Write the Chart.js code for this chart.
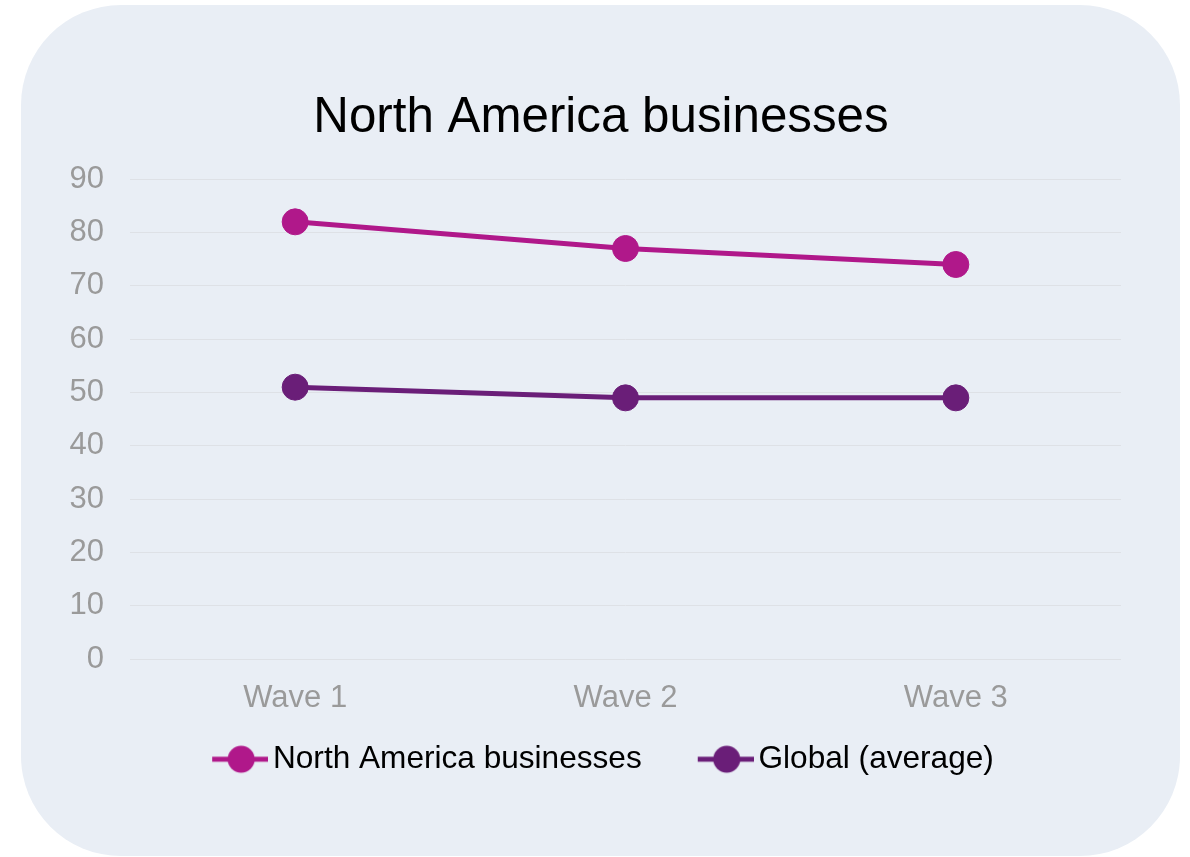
<!DOCTYPE html>
<html>
<head>
<meta charset="utf-8">
<script src="https://cdn.jsdelivr.net/npm/chart.js@4"></script>
<style>
  html, body { margin: 0; padding: 0; background: #ffffff; }
  #wrap { position: relative; width: 1190px; height: 857px; overflow: hidden; }
  #bg { position: absolute; left: 21px; top: 5px; width: 1159px; height: 851px; border-radius: 100px; background: #E9EEF5; }
  #c { position: absolute; left: 0; top: 0; }
</style>
</head>
<body>
<div id="wrap">
  <div id="bg"></div>
  <canvas id="c" width="1190" height="857"></canvas>
</div>
<script>
const titleText = 'North America businesses';
const categories = ['Wave 1', 'Wave 2', 'Wave 3'];
const seriesNames = ['North America businesses', 'Global (average)'];
const northAmerica = [82, 77, 74];
const globalAverage = [51, 49, 49];
const yTickValues = [0, 10, 20, 30, 40, 50, 60, 70, 80, 90];
const seriesColors = ['#B0188A', '#6A1E78'];

const FONT = "'Liberation Sans', Arial, sans-serif";

function makeLegendImg(color) {
  const cv = document.createElement('canvas');
  cv.width = 71; cv.height = 30;
  const g = cv.getContext('2d');
  const off = 15;
  g.strokeStyle = color;
  g.lineWidth = 5;
  g.lineCap = 'butt';
  g.beginPath();
  g.moveTo(off, 15);
  g.lineTo(off + 56, 15);
  g.stroke();
  g.fillStyle = color;
  g.beginPath();
  g.arc(off + 29, 15, 13.5, 0, Math.PI * 2);
  g.fill();
  return cv;
}

// moves the library-drawn legend up, closer to the axis labels
const legendLift = {
  id: 'legendLift',
  afterLayout(chart) {
    const lg = chart.legend;
    if (!lg) return;
    const dy = 47;
    lg.top -= dy;
    lg.bottom -= dy;
  }
};

const ctx = document.getElementById('c').getContext('2d');
new Chart(ctx, {
  type: 'line',
  data: {
    labels: categories,
    datasets: [
      {
        label: seriesNames[0],
        data: northAmerica,
        borderColor: seriesColors[0],
        backgroundColor: seriesColors[0],
        pointBackgroundColor: seriesColors[0],
        pointBorderColor: seriesColors[0],
        borderWidth: 5,
        pointRadius: 13,
        pointBorderWidth: 1,
        tension: 0,
        fill: false
      },
      {
        label: seriesNames[1],
        data: globalAverage,
        borderColor: seriesColors[1],
        backgroundColor: seriesColors[1],
        pointBackgroundColor: seriesColors[1],
        pointBorderColor: seriesColors[1],
        borderWidth: 5,
        pointRadius: 13,
        pointBorderWidth: 1,
        tension: 0,
        fill: false
      }
    ]
  },
  plugins: [legendLift],
  options: {
    responsive: false,
    devicePixelRatio: 1,
    animation: false,
    layout: { padding: { left: 60, right: 48, top: 0, bottom: 25 } },
    plugins: {
      title: {
        display: true,
        text: titleText,
        color: '#000000',
        font: { family: FONT, size: 49.3, weight: 'normal' },
        padding: { top: 89, bottom: 31 }
      },
      legend: {
        display: true,
        position: 'bottom',
        labels: {
          usePointStyle: true,
          pointStyleWidth: 49,
          padding: 52,
          color: '#000000',
          font: { family: FONT, size: 31.6 },
          generateLabels(chart) {
            const items = Chart.defaults.plugins.legend.labels.generateLabels(chart);
            items.forEach((it, i) => { it.pointStyle = makeLegendImg(seriesColors[i]); });
            return items;
          }
        }
      },
      tooltip: { enabled: false }
    },
    scales: {
      x: {
        offset: true,
        grid: { display: false, drawTicks: false },
        border: { display: false },
        ticks: { color: '#9A9A9A', font: { family: FONT, size: 31 }, padding: 21 }
      },
      y: {
        min: yTickValues[0],
        max: yTickValues[yTickValues.length - 1],
        afterBuildTicks(scale) { scale.ticks = yTickValues.map(v => ({ value: v })); },
        afterFit(scale) { scale.width = 70; },
        grid: { color: '#DEE1E6', lineWidth: 1, drawTicks: false },
        border: { display: false },
        ticks: { color: '#9A9A9A', font: { family: FONT, size: 31 }, padding: 26 }
      },
      yRight: {
        position: 'right',
        display: true,
        grid: { display: false, drawTicks: false },
        border: { display: false },
        ticks: { display: false },
        afterFit(scale) { scale.width = 21; }
      }
    }
  }
});
</script>
</body>
</html>
